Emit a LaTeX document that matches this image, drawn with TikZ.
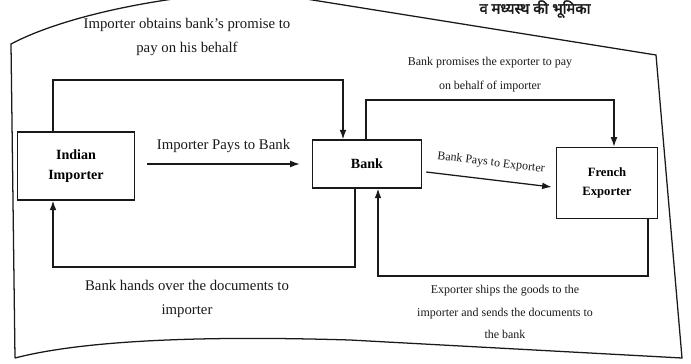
\documentclass[tikz,border=0pt]{standalone}
\usepackage{fontspec}
\setmainfont{Liberation Serif}
\newfontfamily\hindifont[Script=Devanagari,FakeBold=2.5]{Noto Sans}
\usetikzlibrary{arrows.meta}
\definecolor{ink}{RGB}{25,25,25}

\tikzset{
  party/.style={draw=ink, line width=0.9pt, align=center, font=\bfseries\fontsize{10}{14}\selectfont},
  flow/.style={draw=ink, line width=0.9pt, -{Latex[length=2.4mm,width=1.7mm]}},
  note/.style={align=center, text=ink}
}

\begin{document}
\begin{tikzpicture}[x=0.025cm,y=-0.025cm]
  \useasboundingbox (0,0) rectangle (691,363);
  \clip (0,0) rectangle (691,363);

  % page frame
  \draw[ink, line width=0.9pt] (15,358) -- (11,44)
    .. controls (60,18) and (150,-2) .. (240,-8)
    (300,-2) -- (656,55) -- (682,358)
    -- (350,340) .. controls (250,337) and (100,336) .. (15,358);
  \node (title) [text=ink, font=\hindifont\fontsize{10.5}{12}\selectfont] at (535,9) {व मध्यस्थ की भूमिका};

  % parties
  \node (imp) [party, minimum width=2.93cm, minimum height=1.7cm] at (76,166) {Indian\\Importer};
  \node (bank) [party, minimum width=2.73cm, minimum height=1.2cm] at (367,164) {Bank};
  \node (exp) [party, minimum width=2.53cm, minimum height=1.78cm, font=\bfseries\fontsize{9}{14}\selectfont] at (607,183) {French\\Exporter};

  % loop corners
  \coordinate (tl) at (53,80);
  \coordinate (tr) at (343,80);
  \coordinate (tr1) at (366,100);
  \coordinate (tr2) at (614,100);
  \coordinate (bl1) at (355,267);
  \coordinate (bl2) at (53,267);
  \coordinate (br1) at (648,276);
  \coordinate (br2) at (378,276);

  % flows
  \draw[flow] ([xshift=3mm]imp.east |- bank.west) -- ([xshift=-3mm]bank.west)
    node (paybank) [midway, above=1.5mm, note, font=\fontsize{10.5}{12}\selectfont] {Importer Pays to Bank};
  \draw[flow] ([xshift=1mm,yshift=-2mm]bank.east) -- ([xshift=-1mm,yshift=-1mm]exp.west)
    node (payexp) [midway, above=1.5mm, sloped, note, font=\fontsize{8.5}{10}\selectfont] {Bank Pays to Exporter};
  \draw[flow] (imp.north -| tl) -- (tl) -- (tr) -- (bank.north -| tr);
  \draw[flow] (bank.north -| tr1) -- (tr1) -- (tr2) -- (exp.north -| tr2);
  \draw[flow] (bank.south -| bl1) -- (bl1) -- (bl2) -- (imp.south -| bl2);
  \draw[flow] (exp.south -| br1) -- (br1) -- (br2) -- (bank.south -| br2);

  % notes
  \node (promise) [note, font=\fontsize{10.5}{17}\selectfont] at (187,37) {Importer obtains bank's promise to\\pay on his behalf};
  \node (assure) [note, font=\fontsize{8.5}{17}\selectfont] at (490,75) {Bank promises the exporter to pay\\on behalf of importer};
  \node (docs) [note, font=\fontsize{10.5}{17}\selectfont] at (187,299) {Bank hands over the documents to\\importer};
  \node (ship) [note, font=\fontsize{8.5}{16}\selectfont] at (505,312) {Exporter ships the goods to the\\importer and sends the documents to\\the bank};
\end{tikzpicture}
\end{document}
